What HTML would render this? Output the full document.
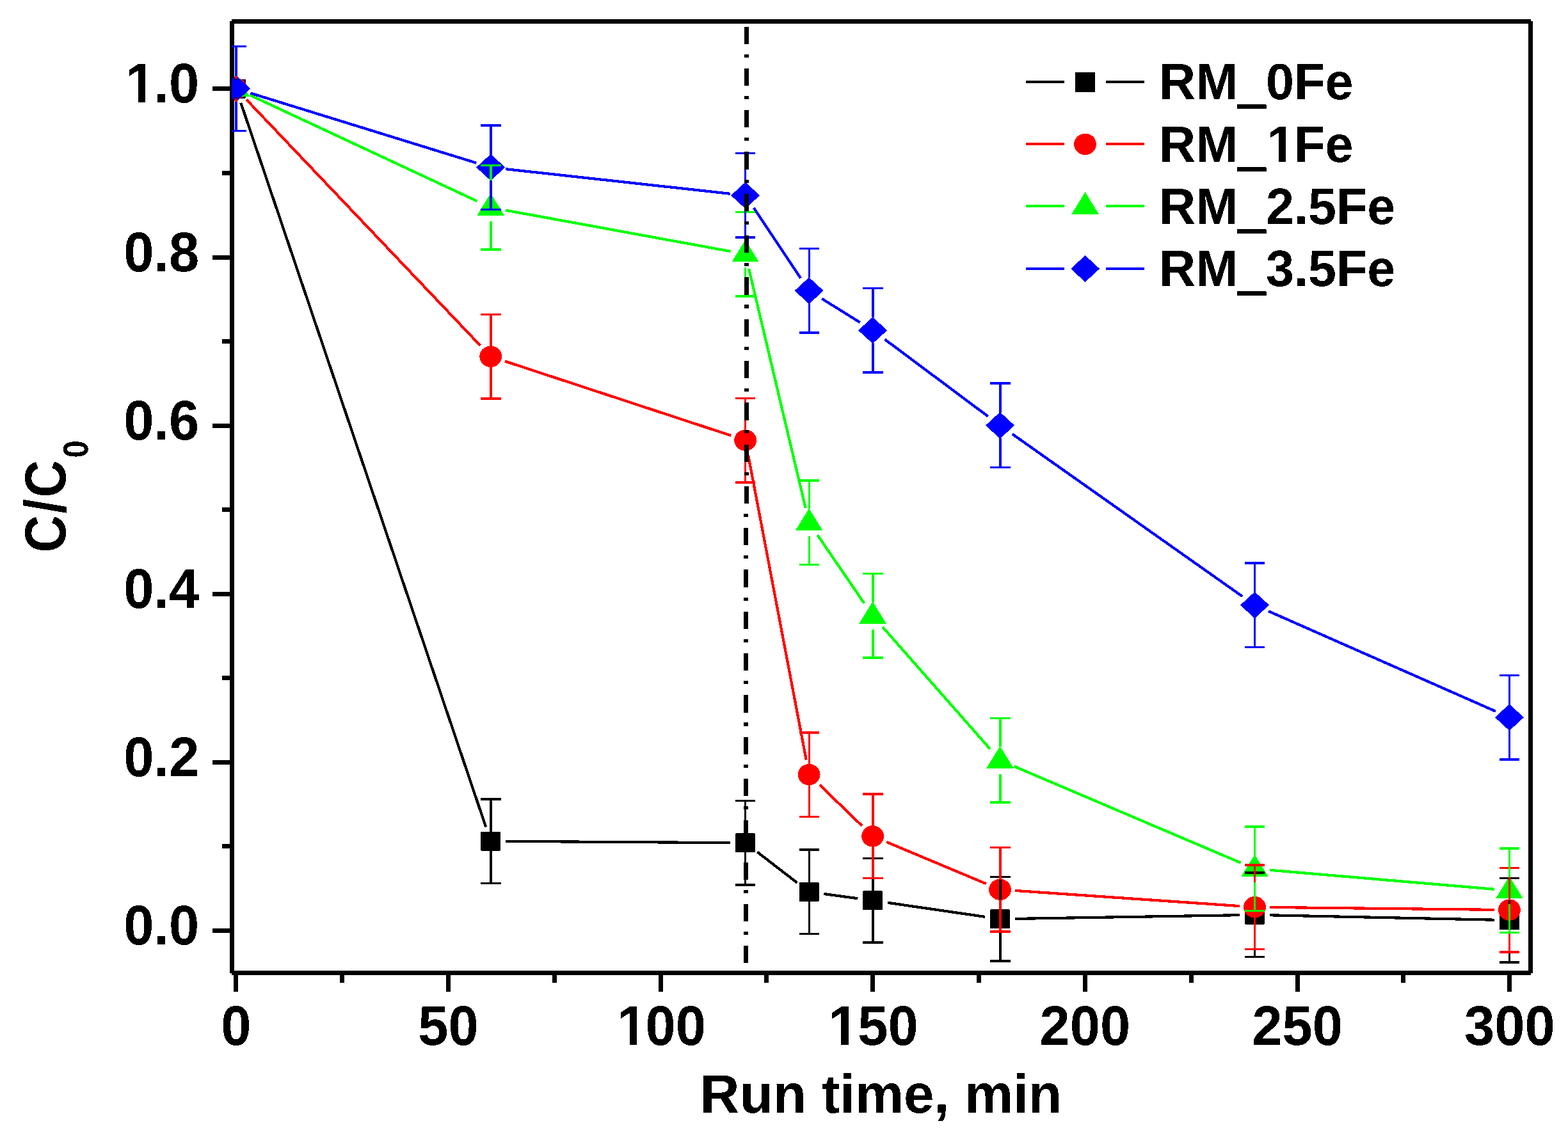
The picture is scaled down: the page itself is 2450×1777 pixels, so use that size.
<!DOCTYPE html>
<html lang="en"><head><meta charset="utf-8"><title>C/C0 vs run time</title>
<style>html,body{margin:0;padding:0;background:#ffffff;}body{width:2450px;height:1777px;overflow:hidden;}svg{display:block;}text{font-family:"Liberation Sans",sans-serif;font-weight:bold;fill:#000;filter:url(#hard);}</style>
</head><body>
<svg width="2450" height="1777" viewBox="0 0 2450 1777">
<rect x="0" y="0" width="2450" height="1777" fill="#ffffff"/>
<defs><clipPath id="plotclip"><rect x="362" y="33" width="2030" height="1488"/></clipPath><filter id="hard" x="-10%" y="-10%" width="120%" height="120%" color-interpolation-filters="sRGB"><feComponentTransfer><feFuncA type="discrete" tableValues="0 1"/></feComponentTransfer></filter></defs>
<g shape-rendering="crispEdges" fill="#000">
<rect x="359" y="33" width="7" height="1488"/>
<rect x="362" y="30" width="2030" height="7"/>
<rect x="2388" y="33" width="7" height="1488"/>
<rect x="362" y="1517" width="2030" height="7"/>
<rect x="332" y="1451" width="27" height="7"/>
<rect x="347" y="1319" width="12" height="7"/>
<rect x="332" y="1188" width="27" height="7"/>
<rect x="347" y="1056" width="12" height="7"/>
<rect x="332" y="925" width="27" height="7"/>
<rect x="347" y="793" width="12" height="7"/>
<rect x="332" y="662" width="27" height="7"/>
<rect x="347" y="530" width="12" height="7"/>
<rect x="332" y="399" width="27" height="7"/>
<rect x="347" y="267" width="12" height="7"/>
<rect x="332" y="135" width="27" height="7"/>
<rect x="365" y="1524" width="7" height="26"/>
<rect x="531" y="1524" width="7" height="12"/>
<rect x="697" y="1524" width="7" height="26"/>
<rect x="863" y="1524" width="7" height="12"/>
<rect x="1029" y="1524" width="7" height="26"/>
<rect x="1194" y="1524" width="7" height="12"/>
<rect x="1360" y="1524" width="7" height="26"/>
<rect x="1526" y="1524" width="7" height="12"/>
<rect x="1692" y="1524" width="7" height="26"/>
<rect x="1858" y="1524" width="7" height="12"/>
<rect x="2024" y="1524" width="7" height="26"/>
<rect x="2189" y="1524" width="7" height="12"/>
<rect x="2355" y="1524" width="7" height="26"/>
</g>
<g clip-path="url(#plotclip)" shape-rendering="crispEdges">
<path d="M376.33 160.76L759.19 1292.44M790.22 1314.85L1141.14 1317.15M1183.26 1331.64L1245.5 1379.56M1287.41 1397.06L1340.31 1404.24M1386.86 1410.78L1539.3 1432.92M1586.06 1435.92L1936.98 1430.18M1983.97 1430.3L2334.91 1437.7" fill="none" stroke="#000000" stroke-width="4.2"/>
<rect x="353.3" y="123.5" width="31" height="30" rx="1.5" fill="#000000"/>
<rect x="751.22" y="1299.7" width="31" height="30" rx="1.5" fill="#000000"/>
<rect x="1149.14" y="1302.3" width="31" height="30" rx="1.5" fill="#000000"/>
<rect x="1248.62" y="1378.9" width="31" height="30" rx="1.5" fill="#000000"/>
<rect x="1348.1" y="1392.4" width="31" height="30" rx="1.5" fill="#000000"/>
<rect x="1547.06" y="1421.3" width="31" height="30" rx="1.5" fill="#000000"/>
<rect x="1944.98" y="1414.8" width="31" height="30" rx="1.5" fill="#000000"/>
<rect x="2342.9" y="1423.2" width="31" height="30" rx="1.5" fill="#000000"/>
<path d="M384.99 155.53L750.53 540.17M789.04 564.54L1142.32 680.76M1169.04 711.19L1259.72 1187.51M1281 1226.94L1346.72 1290.56M1385.27 1315.98L1540.89 1381.22M1586 1391.91L1937.04 1416.09M1983.98 1417.96L2334.9 1421.84" fill="none" stroke="#ff0000" stroke-width="4.2"/>
<ellipse cx="368.8" cy="138.5" rx="17.4" ry="16.7" fill="#ff0000"/>
<ellipse cx="766.72" cy="557.2" rx="17.4" ry="16.7" fill="#ff0000"/>
<ellipse cx="1164.64" cy="688.1" rx="17.4" ry="16.7" fill="#ff0000"/>
<ellipse cx="1264.12" cy="1210.6" rx="17.4" ry="16.7" fill="#ff0000"/>
<ellipse cx="1363.6" cy="1306.9" rx="17.4" ry="16.7" fill="#ff0000"/>
<ellipse cx="1562.56" cy="1390.3" rx="17.4" ry="16.7" fill="#ff0000"/>
<ellipse cx="1960.48" cy="1417.7" rx="17.4" ry="16.7" fill="#ff0000"/>
<ellipse cx="2358.4" cy="1422.1" rx="17.4" ry="16.7" fill="#ff0000"/>
<path d="M390.09 148.44L745.43 314.36M789.84 328.53L1141.52 392.87M1170.06 419.97L1258.7 793.93M1277.38 836.2L1350.34 942.9M1379.13 979.94L1547.03 1170.66M1584.18 1197.51L1938.86 1348.59M1983.89 1359.8L2334.99 1389.8" fill="none" stroke="#00ff00" stroke-width="4.2"/>
<polygon points="368.8,116.2 390,150.7 347.6,150.7" fill="#00ff00"/>
<polygon points="766.72,302 787.92,336.5 745.52,336.5" fill="#00ff00"/>
<polygon points="1164.64,374.8 1185.84,409.3 1143.44,409.3" fill="#00ff00"/>
<polygon points="1264.12,794.5 1285.32,829 1242.92,829" fill="#00ff00"/>
<polygon points="1363.6,940 1384.8,974.5 1342.4,974.5" fill="#00ff00"/>
<polygon points="1562.56,1166 1583.76,1200.5 1541.36,1200.5" fill="#00ff00"/>
<polygon points="1960.48,1335.5 1981.68,1370 1939.28,1370" fill="#00ff00"/>
<polygon points="2358.4,1369.5 2379.6,1404 2337.2,1404" fill="#00ff00"/>
<path d="M391.25 145.45L744.27 254.65M790.08 264.17L1141.28 302.83M1177.69 324.94L1251.07 434.76M1284.06 466.73L1343.66 503.87M1382.43 530.36L1543.73 650.74M1581.76 678.35L1941.28 932.15M1981.98 955.18L2336.9 1111.72" fill="none" stroke="#0000ff" stroke-width="4.2"/>
<polygon points="368.8,117.7 391.4,138.5 368.8,159.3 346.2,138.5" fill="#0000ff"/>
<polygon points="766.72,240.8 789.32,261.6 766.72,282.4 744.12,261.6" fill="#0000ff"/>
<polygon points="1164.64,284.6 1187.24,305.4 1164.64,326.2 1142.04,305.4" fill="#0000ff"/>
<polygon points="1264.12,433.5 1286.72,454.3 1264.12,475.1 1241.52,454.3" fill="#0000ff"/>
<polygon points="1363.6,495.5 1386.2,516.3 1363.6,537.1 1341,516.3" fill="#0000ff"/>
<polygon points="1562.56,644 1585.16,664.8 1562.56,685.6 1539.96,664.8" fill="#0000ff"/>
<polygon points="1960.48,924.9 1983.08,945.7 1960.48,966.5 1937.88,945.7" fill="#0000ff"/>
<polygon points="2358.4,1100.4 2381,1121.2 2358.4,1142 2335.8,1121.2" fill="#0000ff"/>
<g fill="#000000"><rect x="367" y="72.7" width="4" height="52.3"/><rect x="367" y="152" width="4" height="52.3"/><rect x="353" y="70.95" width="32" height="3.5"/><rect x="353" y="202.55" width="32" height="3.5"/><rect x="765" y="1248.9" width="4" height="52.3"/><rect x="765" y="1328.2" width="4" height="52.3"/><rect x="751" y="1247.15" width="32" height="3.5"/><rect x="751" y="1378.75" width="32" height="3.5"/><rect x="1163" y="1251.5" width="3" height="52.3"/><rect x="1163" y="1330.8" width="3" height="52.3"/><rect x="1149" y="1249.75" width="31" height="3.5"/><rect x="1149" y="1381.35" width="31" height="3.5"/><rect x="1263" y="1328.1" width="3" height="52.3"/><rect x="1263" y="1407.4" width="3" height="52.3"/><rect x="1249" y="1326.35" width="31" height="3.5"/><rect x="1249" y="1457.95" width="31" height="3.5"/><rect x="1362" y="1341.6" width="4" height="52.3"/><rect x="1362" y="1420.9" width="4" height="52.3"/><rect x="1348" y="1339.85" width="32" height="3.5"/><rect x="1348" y="1471.45" width="32" height="3.5"/><rect x="1561" y="1370.5" width="4" height="52.3"/><rect x="1561" y="1449.8" width="4" height="52.3"/><rect x="1547" y="1368.75" width="32" height="3.5"/><rect x="1547" y="1500.35" width="32" height="3.5"/><rect x="1959" y="1364" width="3" height="52.3"/><rect x="1959" y="1443.3" width="3" height="52.3"/><rect x="1945" y="1362.25" width="31" height="3.5"/><rect x="1945" y="1493.85" width="31" height="3.5"/><rect x="2357" y="1372.4" width="3" height="52.3"/><rect x="2357" y="1451.7" width="3" height="52.3"/><rect x="2343" y="1370.65" width="31" height="3.5"/><rect x="2343" y="1502.25" width="31" height="3.5"/></g>
<g fill="#ff0000"><rect x="367" y="72.7" width="4" height="50.6"/><rect x="367" y="153.7" width="4" height="50.6"/><rect x="353" y="70.95" width="32" height="3.5"/><rect x="353" y="202.55" width="32" height="3.5"/><rect x="765" y="491.4" width="4" height="50.6"/><rect x="765" y="572.4" width="4" height="50.6"/><rect x="751" y="489.65" width="32" height="3.5"/><rect x="751" y="621.25" width="32" height="3.5"/><rect x="1163" y="622.3" width="3" height="50.6"/><rect x="1163" y="703.3" width="3" height="50.6"/><rect x="1149" y="620.55" width="31" height="3.5"/><rect x="1149" y="752.15" width="31" height="3.5"/><rect x="1263" y="1144.8" width="3" height="50.6"/><rect x="1263" y="1225.8" width="3" height="50.6"/><rect x="1249" y="1143.05" width="31" height="3.5"/><rect x="1249" y="1274.65" width="31" height="3.5"/><rect x="1362" y="1241.1" width="4" height="50.6"/><rect x="1362" y="1322.1" width="4" height="50.6"/><rect x="1348" y="1239.35" width="32" height="3.5"/><rect x="1348" y="1370.95" width="32" height="3.5"/><rect x="1561" y="1324.5" width="4" height="50.6"/><rect x="1561" y="1405.5" width="4" height="50.6"/><rect x="1547" y="1322.75" width="32" height="3.5"/><rect x="1547" y="1454.35" width="32" height="3.5"/><rect x="1959" y="1351.9" width="3" height="50.6"/><rect x="1959" y="1432.9" width="3" height="50.6"/><rect x="1945" y="1350.15" width="31" height="3.5"/><rect x="1945" y="1481.75" width="31" height="3.5"/><rect x="2357" y="1356.3" width="3" height="50.6"/><rect x="2357" y="1437.3" width="3" height="50.6"/><rect x="2343" y="1354.55" width="31" height="3.5"/><rect x="2343" y="1486.15" width="31" height="3.5"/></g>
<g fill="#00ff00"><rect x="367" y="72.7" width="4" height="44.6"/><rect x="367" y="159.7" width="4" height="44.6"/><rect x="353" y="70.95" width="32" height="3.5"/><rect x="353" y="202.55" width="32" height="3.5"/><rect x="765" y="258.5" width="4" height="44.6"/><rect x="765" y="345.5" width="4" height="44.6"/><rect x="751" y="256.75" width="32" height="3.5"/><rect x="751" y="388.35" width="32" height="3.5"/><rect x="1163" y="331.3" width="3" height="44.6"/><rect x="1163" y="418.3" width="3" height="44.6"/><rect x="1149" y="329.55" width="31" height="3.5"/><rect x="1149" y="461.15" width="31" height="3.5"/><rect x="1263" y="751" width="3" height="44.6"/><rect x="1263" y="838" width="3" height="44.6"/><rect x="1249" y="749.25" width="31" height="3.5"/><rect x="1249" y="880.85" width="31" height="3.5"/><rect x="1362" y="896.5" width="4" height="44.6"/><rect x="1362" y="983.5" width="4" height="44.6"/><rect x="1348" y="894.75" width="32" height="3.5"/><rect x="1348" y="1026.35" width="32" height="3.5"/><rect x="1561" y="1122.5" width="4" height="44.6"/><rect x="1561" y="1209.5" width="4" height="44.6"/><rect x="1547" y="1120.75" width="32" height="3.5"/><rect x="1547" y="1252.35" width="32" height="3.5"/><rect x="1959" y="1292" width="3" height="44.6"/><rect x="1959" y="1379" width="3" height="44.6"/><rect x="1945" y="1290.25" width="31" height="3.5"/><rect x="1945" y="1421.85" width="31" height="3.5"/><rect x="2357" y="1326" width="3" height="44.6"/><rect x="2357" y="1413" width="3" height="44.6"/><rect x="2343" y="1324.25" width="31" height="3.5"/><rect x="2343" y="1455.85" width="31" height="3.5"/></g>
<g fill="#0000ff"><rect x="367" y="72.7" width="4" height="45.8"/><rect x="367" y="158.5" width="4" height="45.8"/><rect x="353" y="70.95" width="32" height="3.5"/><rect x="353" y="202.55" width="32" height="3.5"/><rect x="765" y="195.8" width="4" height="45.8"/><rect x="765" y="281.6" width="4" height="45.8"/><rect x="751" y="194.05" width="32" height="3.5"/><rect x="751" y="325.65" width="32" height="3.5"/><rect x="1163" y="239.6" width="3" height="45.8"/><rect x="1163" y="325.4" width="3" height="45.8"/><rect x="1149" y="237.85" width="31" height="3.5"/><rect x="1149" y="369.45" width="31" height="3.5"/><rect x="1263" y="388.5" width="3" height="45.8"/><rect x="1263" y="474.3" width="3" height="45.8"/><rect x="1249" y="386.75" width="31" height="3.5"/><rect x="1249" y="518.35" width="31" height="3.5"/><rect x="1362" y="450.5" width="4" height="45.8"/><rect x="1362" y="536.3" width="4" height="45.8"/><rect x="1348" y="448.75" width="32" height="3.5"/><rect x="1348" y="580.35" width="32" height="3.5"/><rect x="1561" y="599" width="4" height="45.8"/><rect x="1561" y="684.8" width="4" height="45.8"/><rect x="1547" y="597.25" width="32" height="3.5"/><rect x="1547" y="728.85" width="32" height="3.5"/><rect x="1959" y="879.9" width="3" height="45.8"/><rect x="1959" y="965.7" width="3" height="45.8"/><rect x="1945" y="878.15" width="31" height="3.5"/><rect x="1945" y="1009.75" width="31" height="3.5"/><rect x="2357" y="1055.4" width="3" height="45.8"/><rect x="2357" y="1141.2" width="3" height="45.8"/><rect x="2343" y="1053.65" width="31" height="3.5"/><rect x="2343" y="1185.25" width="31" height="3.5"/></g>
<g fill="#000"><rect x="1163" y="41.55" width="7" height="27.3"/><rect x="1163" y="84.6" width="7" height="5.1"/><rect x="1163" y="106.85" width="7" height="27.3"/><rect x="1163" y="149.9" width="7" height="5.1"/><rect x="1163" y="172.15" width="7" height="27.3"/><rect x="1163" y="215.2" width="7" height="5.1"/><rect x="1163" y="237.45" width="7" height="27.3"/><rect x="1163" y="280.5" width="7" height="5.1"/><rect x="1163" y="302.75" width="7" height="27.3"/><rect x="1163" y="345.8" width="7" height="5.1"/><rect x="1163" y="368.05" width="7" height="27.3"/><rect x="1163" y="411.1" width="7" height="5.1"/><rect x="1163" y="433.35" width="7" height="27.3"/><rect x="1163" y="476.4" width="7" height="5.1"/><rect x="1163" y="498.65" width="7" height="27.3"/><rect x="1163" y="541.7" width="7" height="5.1"/><rect x="1163" y="563.95" width="7" height="27.3"/><rect x="1163" y="607" width="7" height="5.1"/><rect x="1163" y="629.25" width="7" height="27.3"/><rect x="1163" y="672.3" width="7" height="5.1"/><rect x="1163" y="694.55" width="7" height="27.3"/><rect x="1163" y="737.6" width="7" height="5.1"/><rect x="1163" y="759.85" width="7" height="27.3"/><rect x="1162" y="802.9" width="7" height="5.1"/><rect x="1162" y="825.15" width="7" height="27.3"/><rect x="1162" y="868.2" width="7" height="5.1"/><rect x="1162" y="890.45" width="7" height="27.3"/><rect x="1162" y="933.5" width="7" height="5.1"/><rect x="1162" y="955.75" width="7" height="27.3"/><rect x="1162" y="998.8" width="7" height="5.1"/><rect x="1162" y="1021.05" width="7" height="27.3"/><rect x="1162" y="1064.1" width="7" height="5.1"/><rect x="1162" y="1086.35" width="7" height="27.3"/><rect x="1162" y="1129.4" width="7" height="5.1"/><rect x="1162" y="1151.65" width="7" height="27.3"/><rect x="1162" y="1194.7" width="7" height="5.1"/><rect x="1162" y="1216.95" width="7" height="27.3"/><rect x="1162" y="1260" width="7" height="5.1"/><rect x="1162" y="1282.25" width="7" height="27.3"/><rect x="1162" y="1325.3" width="7" height="5.1"/><rect x="1162" y="1347.55" width="7" height="27.3"/><rect x="1162" y="1390.6" width="7" height="5.1"/><rect x="1162" y="1412.85" width="7" height="27.3"/><rect x="1162" y="1455.9" width="7" height="5.1"/><rect x="1162" y="1478.15" width="7" height="27.3"/></g>
</g>
<g shape-rendering="crispEdges">
<rect x="1603" y="126" width="60" height="4" fill="#000000"/>
<rect x="1728" y="126" width="60" height="4" fill="#000000"/>
<rect x="1680" y="113" width="31" height="31" rx="1.5" fill="#000000"/>
<rect x="1603" y="223" width="60" height="4" fill="#ff0000"/>
<rect x="1728" y="223" width="60" height="4" fill="#ff0000"/>
<ellipse cx="1695.6" cy="225.4" rx="17.4" ry="16.7" fill="#ff0000"/>
<rect x="1603" y="320" width="60" height="4" fill="#00ff00"/>
<rect x="1728" y="320" width="60" height="4" fill="#00ff00"/>
<polygon points="1695.6,300 1716.8,334.5 1674.4,334.5" fill="#00ff00"/>
<rect x="1603" y="418" width="60" height="4" fill="#0000ff"/>
<rect x="1728" y="418" width="60" height="4" fill="#0000ff"/>
<polygon points="1695.6,399.2 1718.2,420 1695.6,440.8 1673,420" fill="#0000ff"/>
</g>
<text x="1811.1" y="154.8" font-size="79.1">RM<tspan font-size="72" dx="2" dy="4.2" stroke="#000" stroke-width="4">_</tspan><tspan dx="1.95" dy="-4.2">0Fe</tspan></text>
<text x="1811.1" y="252.85" font-size="79.1">RM<tspan font-size="72" dx="2" dy="4.2" stroke="#000" stroke-width="4">_</tspan><tspan dx="3.45" dy="-4.2">1</tspan><tspan dx="-1.5">Fe</tspan></text>
<text x="1811.1" y="350" font-size="79.1">RM<tspan font-size="72" dx="2" dy="4.2" stroke="#000" stroke-width="4">_</tspan><tspan dx="1.95" dy="-4.2">2.5Fe</tspan></text>
<text x="1811.1" y="446.8" font-size="79.1">RM<tspan font-size="72" dx="2" dy="4.2" stroke="#000" stroke-width="4">_</tspan><tspan dx="1.95" dy="-4.2">3.5Fe</tspan></text>
<text transform="translate(193.24,1476.3) scale(1,1.015)" font-size="85.0" letter-spacing="0">0.0</text>
<text transform="translate(193.24,1213.3) scale(1,1.015)" font-size="85.0" letter-spacing="0">0.2</text>
<text transform="translate(193.24,950.3) scale(1,1.015)" font-size="85.0" letter-spacing="0">0.4</text>
<text transform="translate(193.24,687.3) scale(1,1.015)" font-size="85.0" letter-spacing="0">0.6</text>
<text transform="translate(193.24,424.3) scale(1,1.015)" font-size="85.0" letter-spacing="0">0.8</text>
<text transform="translate(193.24,160.3) scale(1,1.015)" font-size="85.0" letter-spacing="0"><tspan dx="2.5">1</tspan><tspan dx="-2.5">.0</tspan></text>
<text transform="translate(345.16,1633.3) scale(1,1.015)" font-size="85.0" letter-spacing="0">0</text>
<text transform="translate(653.19,1633.3) scale(1,1.015)" font-size="85.0" letter-spacing="0">50</text>
<text transform="translate(961.22,1633.3) scale(1,1.015)" font-size="85.0" letter-spacing="0"><tspan dx="2.5">1</tspan><tspan dx="-2.5">00</tspan></text>
<text transform="translate(1292.89,1633.3) scale(1,1.015)" font-size="85.0" letter-spacing="0"><tspan dx="1.6">1</tspan><tspan dx="-1.6">50</tspan></text>
<text transform="translate(1624.56,1633.3) scale(1,1.015)" font-size="85.0" letter-spacing="0">200</text>
<text transform="translate(1956.22,1633.3) scale(1,1.015)" font-size="85.0" letter-spacing="0">250</text>
<text transform="translate(2287.89,1633.3) scale(1,1.015)" font-size="85.0" letter-spacing="0">300</text>
<text x="1376.4" y="1739" font-size="85.5" text-anchor="middle">Run time, min</text>
<text transform="translate(102.3,863.5) scale(1.121,1) rotate(-90)" font-size="81" letter-spacing="2.5">C/C<tspan font-size="49" dx="1" dy="31.3">0</tspan></text>
<g fill="#ffffff" shape-rendering="crispEdges"><rect x="1983.09" y="243.58" width="14.98" height="10.47"/><rect x="2008.92" y="243.58" width="13.97" height="10.47"/><rect x="199.59" y="150.3" width="15.98" height="11.2"/><rect x="227.24" y="150.3" width="14.91" height="11.2"/><rect x="967.58" y="1623.3" width="15.98" height="11.2"/><rect x="995.23" y="1623.3" width="14.91" height="11.2"/><rect x="1298.35" y="1623.3" width="15.98" height="11.2"/><rect x="1325.99" y="1623.3" width="14.91" height="11.2"/></g>
</svg>
</body></html>
